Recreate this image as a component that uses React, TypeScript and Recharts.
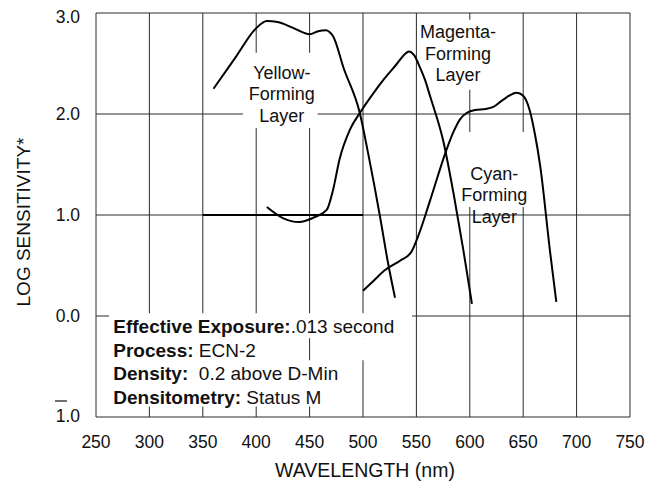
import React from "react";
import {
  LineChart,
  Line,
  XAxis,
  YAxis,
  CartesianGrid,
  ReferenceArea,
  ReferenceDot,
} from "recharts";

// ---- data ----
const yellowNm = [360, 380, 400, 410, 420, 435, 450, 458, 465, 472, 482, 497, 505, 516, 523, 530];
const yellowLog = [2.25, 2.55, 2.85, 2.92, 2.91, 2.85, 2.79, 2.82, 2.83, 2.77, 2.45, 2.01, 1.6, 0.98, 0.55, 0.18];

const magentaNm = [410, 425, 440, 455, 466, 472, 478, 488, 497, 510, 520, 532, 538, 543, 548, 553, 558, 563, 575, 585, 594, 602];
const magentaLog = [1.08, 0.97, 0.93, 0.98, 1.05, 1.25, 1.55, 1.85, 2.01, 2.21, 2.35, 2.5, 2.58, 2.62, 2.58, 2.47, 2.34, 2.17, 1.74, 1.2, 0.65, 0.12];

const cyanNm = [500, 510, 520, 535, 545, 552, 563, 578, 585, 591, 597, 605, 615, 622, 631, 644, 650, 656, 661, 666, 675, 681];
const cyanLog = [0.25, 0.35, 0.45, 0.55, 0.63, 0.8, 1.15, 1.64, 1.83, 1.95, 2.01, 2.04, 2.05, 2.07, 2.14, 2.21, 2.18, 2.04, 1.8, 1.48, 0.65, 0.14];

const baseNm = [350, 500];
const baseLog = [1.0, 1.0];

const xTicks = [250, 300, 350, 400, 450, 500, 550, 600, 650, 700, 750];
const yTicks = [-1, 0, 1, 2, 3];

const layerLabels = {
  yellow: ["Yellow-", "Forming", "Layer"],
  magenta: ["Magenta-", "Forming", "Layer"],
  cyan: ["Cyan-", "Forming", "Layer"],
};

const infoLines: [string, string][] = [
  ["Effective Exposure:", ".013 second"],
  ["Process: ", "ECN-2"],
  ["Density:", "  0.2 above D-Min"],
  ["Densitometry: ", "Status M"],
];

const toSeries = (xs: number[], ys: number[]) => xs.map((x, i) => ({ x, y: ys[i] }));
const yellow = toSeries(yellowNm, yellowLog);
const magenta = toSeries(magentaNm, magentaLog);
const cyan = toSeries(cyanNm, cyanLog);
const base = toSeries(baseNm, baseLog);

const FONT = "'Liberation Sans', Arial, Helvetica, sans-serif";
const GRID = "#2a2a2a";

const XTick = (props: any) => {
  const { x, y, payload } = props;
  return (
    <text x={x} y={y + 25} dy="0.35em" textAnchor="middle" fontFamily={FONT} fontSize={17.5} fill="#111">
      {payload.value}
    </text>
  );
};

const YTick = (props: any) => {
  const { x, y, payload } = props;
  const v = payload.value;
  const dy = v === 3 ? 4 : v === -1 ? -1 : 0;
  const label = Math.abs(v).toFixed(1);
  return (
    <g>
      <text x={x} y={y + dy} dy="0.35em" textAnchor="end" fontFamily={FONT} fontSize={17.5} fill="#111">
        {label}
      </text>
      {v < 0 && <line x1={x - 25} x2={x - 13} y1={y - 16} y2={y - 16} stroke="#111" strokeWidth={1.2} />}
    </g>
  );
};

const multiLine = (lines: string[]) => (p: any) => {
  const vb = p.viewBox;
  const cx = vb.x + vb.width / 2;
  const cy = vb.y + vb.height / 2;
  return (
    <text fontFamily={FONT} fontSize={18} fill="#111" textAnchor="middle">
      {lines.map((l, i) => (
        <tspan key={i} x={cx} y={cy + (i - 1) * 21.5} dy="0.35em">
          {l}
        </tspan>
      ))}
    </text>
  );
};

const infoContent = (p: any) => {
  const vb = p.viewBox;
  const x0 = vb.x + vb.width / 2;
  const y0 = vb.y + vb.height / 2;
  return (
    <text fontFamily={FONT} fontSize={19} fill="#111">
      {infoLines.map((l, i) => (
        <tspan key={i} x={x0} y={y0 + i * 23.7} dy="0.35em">
          <tspan fontWeight="bold">{l[0]}</tspan>
          <tspan style={{ whiteSpace: "pre" }}>{l[1]}</tspan>
        </tspan>
      ))}
    </text>
  );
};

const mask = { fill: "#ffffff", fillOpacity: 1, stroke: "none", ifOverflow: "extendDomain" as const };

export default function App() {
  return (
    <div style={{ position: "absolute", left: 0, top: 0, width: 663, height: 485, background: "#fff" }}>
      <LineChart width={663} height={485} margin={{ top: 13, right: 33, left: 0, bottom: 28 }}>
        <CartesianGrid stroke={GRID} strokeWidth={1} horizontalValues={yTicks} verticalValues={xTicks} />
        <XAxis
          type="number"
          dataKey="x"
          domain={[250, 750]}
          ticks={xTicks}
          axisLine={false}
          tickLine={false}
          tickSize={0}
          tickMargin={0}
          height={40}
          tick={<XTick />}
          interval={0}
          label={{
            content: (p: any) => (
              <text
                x={p.viewBox.x + p.viewBox.width / 2 + 2}
                y={p.viewBox.y + 53}
                dy="0.35em"
                textAnchor="middle"
                fontFamily={FONT}
                fontSize={19.5}
                fill="#111"
              >
                WAVELENGTH (nm)
              </text>
            ),
          }}
        />
        <YAxis
          type="number"
          dataKey="y"
          domain={[-1, 3]}
          ticks={yTicks}
          axisLine={false}
          tickLine={false}
          tickSize={0}
          tickMargin={16}
          width={96}
          tick={<YTick />}
          interval={0}
          label={{
            content: (p: any) => {
              const cx = p.viewBox.x + 23;
              const cy = p.viewBox.y + p.viewBox.height / 2 + 7;
              return (
                <text
                  x={cx}
                  y={cy}
                  dy="0.35em"
                  transform={`rotate(-90 ${cx} ${cy})`}
                  textAnchor="middle"
                  fontFamily={FONT}
                  fontSize={19}
                  fill="#111"
                >
                  LOG SENSITIVITY*
                </text>
              );
            },
          }}
        />
        {/* white masks behind annotations */}
        <ReferenceArea x1={387.6} x2={457.5} y1={1.862} y2={2.606} {...mask} />
        <ReferenceArea x1={567.4} x2={632.9} y1={2.24} y2={2.933} {...mask} />
        <ReferenceArea x1={592.7} x2={654.5} y1={1.078} y2={1.822} {...mask} />
        <ReferenceArea x1={262.2} x2={545.9} y1={-0.221} y2={0.027} {...mask} />
        <ReferenceArea x1={262.2} x2={440.9} y1={-0.897} y2={-0.221} {...mask} />
        <ReferenceArea x1={440.9} x2={483.1} y1={-0.897} y2={-0.439} {...mask} />
        <ReferenceArea x1={478.5} x2={545.9} y1={-0.439} y2={-0.221} {...mask} />

        <Line data={base} dataKey="y" type="linear" stroke="#000" strokeWidth={2.2} dot={false} isAnimationActive={false} />
        <Line data={yellow} dataKey="y" type="monotone" stroke="#000" strokeWidth={2} dot={false} isAnimationActive={false} />
        <Line data={magenta} dataKey="y" type="monotone" stroke="#000" strokeWidth={2} dot={false} isAnimationActive={false} />
        <Line data={cyan} dataKey="y" type="monotone" stroke="#000" strokeWidth={2} dot={false} isAnimationActive={false} />

        <ReferenceDot x={424} y={2.2} r={0} fillOpacity={0} stroke="none" label={{ content: multiLine(layerLabels.yellow) }} />
        <ReferenceDot x={589} y={2.6} r={0} fillOpacity={0} stroke="none" label={{ content: multiLine(layerLabels.magenta) }} />
        <ReferenceDot x={623} y={1.2} r={0} fillOpacity={0} stroke="none" label={{ content: multiLine(layerLabels.cyan) }} />
        <ReferenceDot x={266.2} y={-0.102} r={0} fillOpacity={0} stroke="none" label={{ content: infoContent }} />
      </LineChart>
    </div>
  );
}
